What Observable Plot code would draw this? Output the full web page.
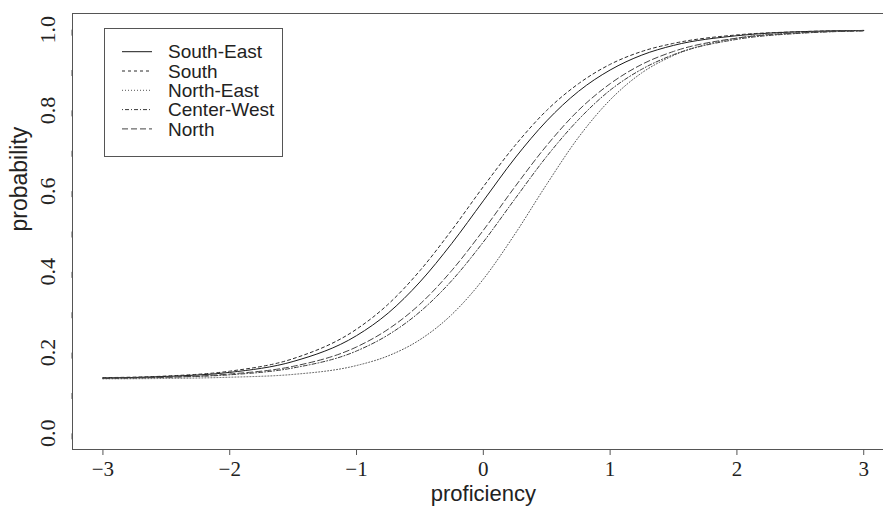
<!DOCTYPE html>
<html>
<head>
<meta charset="utf-8">
<script src="https://cdn.jsdelivr.net/npm/d3@7"></script>
<script src="https://cdn.jsdelivr.net/npm/@observablehq/plot@0.6"></script>
<style>
  html, body { margin: 0; padding: 0; background: #fff; }
  g[aria-label$="tick label"] text, g[aria-label$="tick label"] { font-family: "Liberation Serif", "DejaVu Serif", serif; }
</style>
</head>
<body>
<div id="chart"></div>
<script>
// proficiency grid (x values)
const theta = [-3, -2.5, -2, -1.5, -1, -0.75, -0.5, -0.25, 0, 0.25, 0.5, 0.75, 1, 1.25, 1.5, 2, 2.5, 3];

// probability values per region
const southEast  = [0.137, 0.141, 0.151, 0.178, 0.242, 0.298, 0.375, 0.470, 0.576, 0.682, 0.774, 0.847, 0.900, 0.937, 0.961, 0.985, 0.995, 0.998];
const south      = [0.138, 0.142, 0.154, 0.185, 0.258, 0.320, 0.403, 0.503, 0.611, 0.713, 0.800, 0.866, 0.914, 0.946, 0.966, 0.987, 0.995, 0.998];
const northEast  = [0.135, 0.136, 0.139, 0.146, 0.168, 0.192, 0.232, 0.294, 0.382, 0.494, 0.617, 0.733, 0.826, 0.893, 0.936, 0.979, 0.993, 0.998];
const centerWest = [0.136, 0.139, 0.145, 0.162, 0.204, 0.244, 0.301, 0.378, 0.474, 0.581, 0.686, 0.777, 0.850, 0.902, 0.938, 0.976, 0.991, 0.997];
const north      = [0.137, 0.139, 0.147, 0.166, 0.214, 0.258, 0.320, 0.403, 0.503, 0.611, 0.713, 0.800, 0.866, 0.914, 0.946, 0.979, 0.992, 0.997];

const regions = ["South-East", "South", "North-East", "Center-West", "North"];
const seriesValues = [southEast, south, northEast, centerWest, north];
const dashes = [null, "3,3", "1,2", "1,2,4,2", "6,3"];
const strokes = ["#1a1a1a", "#2a2a2a", "#555", "#3a3a3a", "#444"];

const xTicks = [-3, -2, -1, 0, 1, 2, 3];
const yTicks = [0, 0.1, 0.2, 0.3, 0.4, 0.5, 0.6, 0.7, 0.8, 0.9, 1.0];

const table = regions.map((r, i) => theta.map((t, j) => ({region: r, theta: t, p: seriesValues[i][j]})));

const fmtX = d => d < 0 ? "\u2212" + (-d) : String(d);
const fmtY = d => (Math.round(d * 10) % 2 === 0 ? d.toFixed(1) : "");

const lineMarks = table.map((rows, i) =>
  Plot.line(rows, {x: "theta", y: "p", stroke: strokes[i], strokeWidth: 1, strokeDasharray: dashes[i], curve: "monotone-x"})
);

const chart = Plot.plot({
  width: 883,
  height: 510,
  marginLeft: 72,
  marginRight: 0,
  marginTop: 13,
  marginBottom: 61,
  style: {fontFamily: "'Liberation Sans', Arial, sans-serif", background: "#fff", color: "#222"},
  x: {domain: [-3.24, 3.156]},
  y: {domain: [-0.04, 1.04]},
  marks: [
    Plot.ruleY([-0.04], {stroke: "#555"}),
    Plot.ruleY([1.04], {stroke: "#555"}),
    Plot.ruleX([-3.24], {stroke: "#555"}),
    Plot.axisX({ticks: xTicks, tickFormat: fmtX, tickSize: 6, tickPadding: 6, fontSize: 21, fontFamily: "Liberation Serif", stroke: "#555", label: null}),
    Plot.axisY({ticks: yTicks, tickFormat: fmtY, tickSize: 6, tickPadding: 19, fontSize: 22, fontFamily: "Liberation Serif", rotate: -90, textAnchor: "middle", stroke: "#555", label: null}),
    ...lineMarks,
    Plot.text(["proficiency"], {x: 0, frameAnchor: "bottom", dy: 51, text: d => d, fontSize: 22, fill: "#222"}),
    Plot.text(["probability"], {frameAnchor: "left", dx: -53, rotate: -90, text: d => d, fontSize: 23, fill: "#222"})
  ]
});

document.getElementById("chart").append(chart);

// legend (inside the plot area, top-left)
const svg = d3.select(chart);
const lg = svg.append("g").attr("class", "legend").attr("text-anchor", "start");
lg.append("rect").attr("x", 104.5).attr("y", 28.5).attr("width", 178).attr("height", 128)
  .attr("fill", "#fff").attr("stroke", "#555");
regions.forEach((r, i) => {
  const y = 51.7 + i * 19.3;
  lg.append("line").attr("x1", 122).attr("x2", 152).attr("y1", y).attr("y2", y)
    .attr("stroke", strokes[i]).attr("stroke-width", 1).attr("stroke-dasharray", dashes[i]);
  lg.append("text").attr("x", 168).attr("y", y).attr("dy", "0.35em").attr("text-anchor", "start")
    .attr("font-size", 19).attr("fill", "#222").text(r);
});
</script>
</body>
</html>
